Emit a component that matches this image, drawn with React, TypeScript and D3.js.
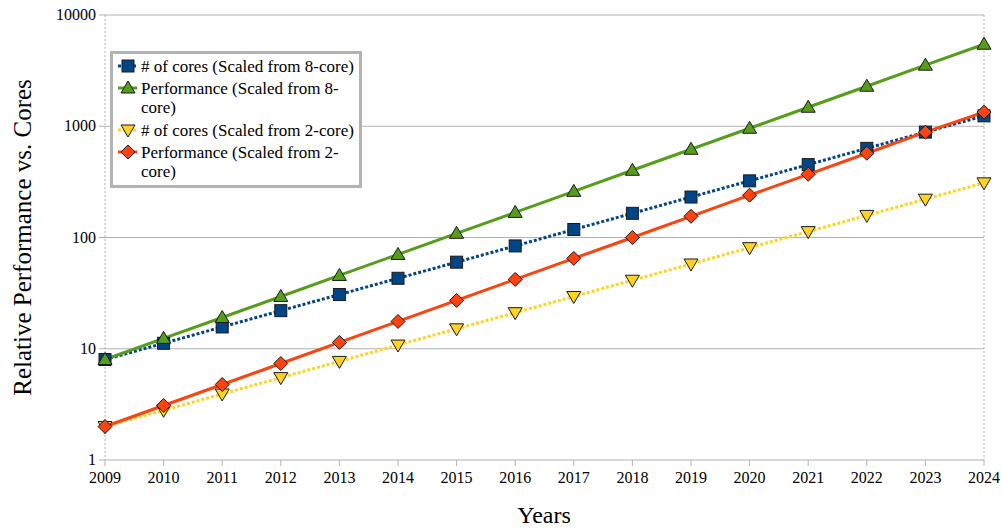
import React from "react";
import * as d3 from "d3";

const years = [2009, 2010, 2011, 2012, 2013, 2014, 2015, 2016, 2017, 2018, 2019, 2020, 2021, 2022, 2023, 2024];
const cores8 = [8, 11.2, 15.7, 22, 30.7, 43, 60, 84, 118, 165, 231, 323, 452, 633, 886, 1240];
const perf8 = [8, 12.4, 19.1, 29.5, 45.6, 70.4, 109, 168, 260, 402, 621, 959, 1482, 2290, 3540, 5460];
const cores2 = [2, 2.8, 3.92, 5.5, 7.7, 10.8, 15.1, 21.1, 29.5, 41.3, 57.8, 81, 113, 158, 221, 310];
const perf2 = [2, 3.09, 4.77, 7.37, 11.4, 17.6, 27.2, 42, 64.9, 100, 155, 240, 370, 572, 884, 1340];
const yTicks = [1, 10, 100, 1000, 10000];

const seriesNames = [
  "# of cores (Scaled from 8-core)",
  "Performance (Scaled from 8-core)",
  "# of cores (Scaled from 2-core)",
  "Performance (Scaled from 2-core)",
];

const W = 1002, H = 530;
const L = 105, R = 984, T = 15, B = 460;

const x = d3.scaleLinear().domain([2009, 2024]).range([L, R]);
const y = d3.scaleLog().domain([1, 10000]).range([B, T]);

type S = { name: string; values: number[]; color: string; dashed: boolean; marker: string };
const series: S[] = [
  { name: seriesNames[0], values: cores8, color: "#004586", dashed: true, marker: "square" },
  { name: seriesNames[1], values: perf8, color: "#579d1c", dashed: false, marker: "up" },
  { name: seriesNames[2], values: cores2, color: "#ffd320", dashed: true, marker: "down" },
  { name: seriesNames[3], values: perf2, color: "#ff420e", dashed: false, marker: "diamond" },
];

const FONT = "Liberation Serif, serif";

function Marker({ kind, cx, cy, color }: { kind: string; cx: number; cy: number; color: string }) {
  const st = { fill: color, stroke: "#1a1a1a", strokeWidth: 1 };
  if (kind === "square") return <rect x={cx - 6} y={cy - 6} width={12} height={12} {...st} />;
  if (kind === "up") return <path d={`M${cx},${cy - 7}L${cx + 7},${cy + 5}L${cx - 7},${cy + 5}Z`} {...st} />;
  if (kind === "down") return <path d={`M${cx},${cy + 7}L${cx + 7},${cy - 5}L${cx - 7},${cy - 5}Z`} {...st} />;
  return <path d={`M${cx},${cy - 7}L${cx + 7},${cy}L${cx},${cy + 7}L${cx - 7},${cy}Z`} {...st} />;
}

export default function App() {
  const line = d3.line<number>().x((_, i) => x(years[i])).y((v) => y(v));
  const ts = { fontFamily: FONT };
  const legendRows = [
    { s: series[0], lines: [seriesNames[0]], y: 66 },
    { s: series[1], lines: ["Performance (Scaled from 8-", "core)"], y: 88 },
    { s: series[2], lines: [seriesNames[2]], y: 130 },
    { s: series[3], lines: ["Performance (Scaled from 2-", "core)"], y: 152 },
  ];
  return (
    <svg width={W} height={H} style={{ position: "absolute", left: 0, top: 0, background: "#fff" }}>
      {yTicks.map((t) => (
        <g key={t}>
          <line x1={L} x2={R} y1={y(t)} y2={y(t)} stroke="#b3b3b3" strokeWidth={1} />
          <line x1={L - 6} x2={L} y1={y(t)} y2={y(t)} stroke="#b3b3b3" strokeWidth={1} />
          <text x={L - 9} y={y(t) + 5} textAnchor="end" fontSize={16} fill="#000" style={ts}>{t}</text>
        </g>
      ))}
      <line x1={L} x2={L} y1={T} y2={B} stroke="#b3b3b3" strokeDasharray="2,2" />
      <line x1={R} x2={R} y1={T} y2={B} stroke="#b3b3b3" strokeDasharray="2,2" />
      {years.map((yr) => (
        <g key={yr}>
          <line x1={x(yr)} x2={x(yr)} y1={B} y2={B + 6} stroke="#b3b3b3" />
          <text x={x(yr)} y={B + 23} textAnchor="middle" fontSize={16} fill="#000" style={ts}>{yr}</text>
        </g>
      ))}
      {series.map((s) => (
        <path key={s.name} d={line(s.values) || ""} fill="none" stroke={s.color} strokeWidth={3}
          strokeDasharray={s.dashed ? "3,2" : undefined} />
      ))}
      {series.map((s) => (
        <g key={s.name + "m"}>
          {s.values.map((v, i) => (
            <Marker key={i} kind={s.marker} cx={x(years[i])} cy={y(v)} color={s.color} />
          ))}
        </g>
      ))}
      <rect x={111.5} y={52.5} width={249} height={134} fill="#fff" stroke="#b3b3b3" strokeWidth={3} />
      {legendRows.map((r) => (
        <g key={r.s.name}>
          <line x1={118} x2={137} y1={r.y} y2={r.y} stroke={r.s.color} strokeWidth={3}
            strokeDasharray={r.s.dashed ? "3,2" : undefined} />
          <Marker kind={r.s.marker} cx={128} cy={r.y} color={r.s.color} />
          {r.lines.map((t, j) => (
            <text key={j} x={141} y={r.y + 6 + j * 19} fontSize={17} fill="#000" style={ts}>{t}</text>
          ))}
        </g>
      ))}
      <text x={544} y={523} textAnchor="middle" fontSize={24} fill="#000" style={ts}>Years</text>
      <text transform={`translate(31,${(T + B) / 2}) rotate(-90)`} textAnchor="middle" fontSize={25} fill="#000" style={ts}>
        Relative Performance vs. Cores
      </text>
    </svg>
  );
}
